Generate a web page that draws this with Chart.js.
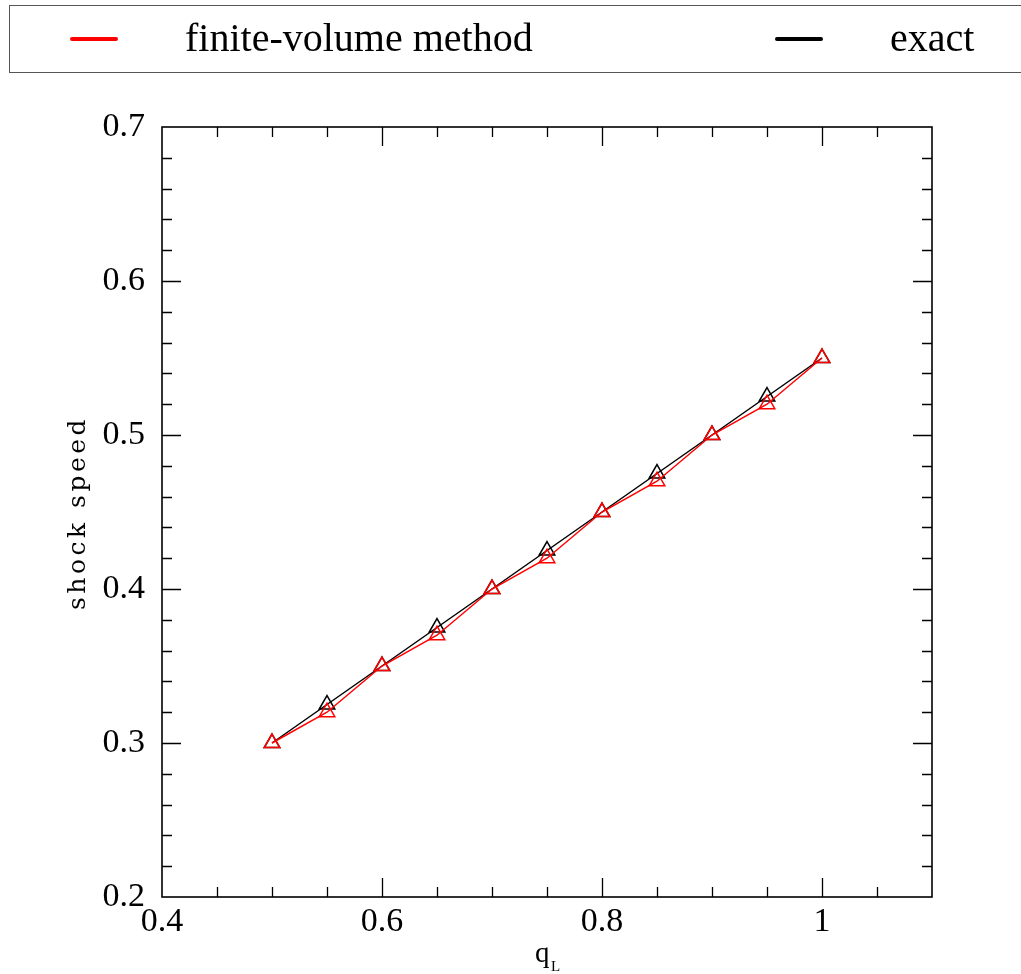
<!DOCTYPE html>
<html>
<head>
<meta charset="utf-8">
<script src="https://cdn.jsdelivr.net/npm/chart.js@4"></script>
<style>
  html, body { margin: 0; padding: 0; background: #fff; }
  #wrap { position: relative; width: 1021px; height: 974px; overflow: hidden; }
  #legend {
    position: absolute; left: 9px; top: 5px; width: 1020px; height: 68px;
    border: 1px solid #555; box-sizing: border-box;
    font-family: "Liberation Serif", serif; font-size: 40px; color: #000;
  }
  .item { position: absolute; top: 0; height: 66px; line-height: 64px; }
  .swatch { position: absolute; top: 31px; width: 48px; height: 4px; border-radius: 2px; }
  canvas { position: absolute; left: 0; top: 0; }
</style>
</head>
<body>
<div id="wrap">
  <canvas id="myChart" width="1021" height="974"></canvas>
  <div id="legend"></div>
</div>
<script>
// values
const qL = [0.5, 0.55, 0.6, 0.65, 0.7, 0.75, 0.8, 0.85, 0.9, 0.95, 1.0];
const finiteVolume = [0.3, 0.32, 0.35, 0.37, 0.4, 0.42, 0.45, 0.47, 0.5, 0.52, 0.55];
const exact = [0.3, 0.325, 0.35, 0.375, 0.4, 0.425, 0.45, 0.475, 0.5, 0.525, 0.55];

const seriesNames = ["finite-volume method", "exact"];
const seriesColors = ["#ff0000", "#000000"];

// axis ranges and tick steps
const xRange = [0.4, 1.1];
const yRange = [0.2, 0.7];
const xMajor = 0.2, xMinor = 0.05;
const yMajor = 0.1, yMinor = 0.02;

const FONT = '"Liberation Serif", serif';

// html legend built from the series
const legend = document.getElementById("legend");
const itemLeft = [[60, 175], [765, 880]];
seriesNames.forEach((name, i) => {
  const sw = document.createElement("div");
  sw.className = "swatch";
  sw.style.left = itemLeft[i][0] + "px";
  sw.style.background = seriesColors[i];
  legend.appendChild(sw);
  const t = document.createElement("div");
  t.className = "item";
  t.style.left = itemLeft[i][1] + "px";
  t.textContent = name;
  legend.appendChild(t);
});

// frame, inward ticks on all four sides, axis titles
const framePlugin = {
  id: "frame",
  afterDraw(chart) {
    const { ctx, chartArea: a, scales } = chart;
    const xs = scales.x, ys = scales.y;
    ctx.save();
    ctx.strokeStyle = "#000";
    ctx.lineWidth = 1.6;
    ctx.strokeRect(a.left, a.top, a.right - a.left, a.bottom - a.top);

    ctx.lineWidth = 1.3;
    ctx.beginPath();
    const nx = Math.round((xRange[1] - xRange[0]) / xMinor);
    const everyX = Math.round(xMajor / xMinor);
    for (let k = 1; k < nx; k++) {
      const px = Math.round(xs.getPixelForValue(xRange[0] + k * xMinor)) + 0.5;
      const len = k % everyX === 0 ? 19 : 10;
      ctx.moveTo(px, a.bottom); ctx.lineTo(px, a.bottom - len);
      ctx.moveTo(px, a.top); ctx.lineTo(px, a.top + len);
    }
    const ny = Math.round((yRange[1] - yRange[0]) / yMinor);
    const everyY = Math.round(yMajor / yMinor);
    for (let k = 1; k < ny; k++) {
      const py = Math.round(ys.getPixelForValue(yRange[0] + k * yMinor)) + 0.5;
      const len = k % everyY === 0 ? 19 : 10;
      ctx.moveTo(a.left, py); ctx.lineTo(a.left + len, py);
      ctx.moveTo(a.right, py); ctx.lineTo(a.right - len, py);
    }
    ctx.stroke();

    // y title
    ctx.fillStyle = "#000";
    ctx.font = '25px "DejaVu Serif", serif';
    ctx.letterSpacing = "3.5px";
    ctx.textAlign = "center";
    ctx.textBaseline = "middle";
    ctx.save();
    ctx.translate(78, (a.top + a.bottom) / 2 + 1);
    ctx.rotate(-Math.PI / 2);
    ctx.fillText("shock speed", 0, 0);
    ctx.restore();

    // x title q with subscript L
    ctx.letterSpacing = "0px";
    const cx = (a.left + a.right) / 2;
    ctx.textAlign = "left";
    ctx.textBaseline = "alphabetic";
    ctx.font = "29px " + FONT;
    ctx.fillText("q", cx - 12, 962);
    ctx.font = "15px " + FONT;
    ctx.fillText("L", cx + 4, 971);
    ctx.restore();
  }
};

const tickText = (v) => String(Number(v.toFixed(2)));

const ctx = document.getElementById("myChart");

new Chart(ctx, {
  type: "line",
  data: {
    datasets: [
      {
        label: seriesNames[0],
        data: qL.map((x, i) => ({ x: x, y: finiteVolume[i] })),
        borderColor: seriesColors[0],
        borderWidth: 1.5,
        pointStyle: "triangle",
        pointRadius: 9,
        pointBorderWidth: 1.5,
        pointBorderColor: seriesColors[0],
        pointBackgroundColor: "rgba(0,0,0,0)",
        tension: 0,
      },
      {
        label: seriesNames[1],
        data: qL.map((x, i) => ({ x: x, y: exact[i] })),
        borderColor: seriesColors[1],
        borderWidth: 1.5,
        pointStyle: "triangle",
        pointRadius: 9,
        pointBorderWidth: 1.5,
        pointBorderColor: seriesColors[1],
        pointBackgroundColor: "rgba(0,0,0,0)",
        tension: 0,
      },
    ],
  },
  options: {
    responsive: false,
    animation: false,
    layout: { padding: { top: 127, right: 89, left: 0, bottom: 0 } },
    scales: {
      x: {
        type: "linear",
        min: xRange[0],
        max: xRange[1],
        grid: { display: false, drawTicks: false },
        border: { display: false },
        ticks: {
          stepSize: xMajor,
          includeBounds: false,
          color: "#000",
          padding: 5,
          font: { size: 34, family: FONT },
          callback: tickText,
        },
        afterFit: (s) => { s.height = 77; },
      },
      y: {
        type: "linear",
        min: yRange[0],
        max: yRange[1],
        grid: { display: false, drawTicks: false },
        border: { display: false },
        ticks: {
          stepSize: yMajor,
          color: "#000",
          padding: 17,
          font: { size: 34, family: FONT },
          callback: tickText,
        },
        afterFit: (s) => { s.width = 162; },
      },
    },
    plugins: {
      legend: { display: false },
      tooltip: { enabled: false },
    },
  },
  plugins: [framePlugin],
});
</script>
</body>
</html>
